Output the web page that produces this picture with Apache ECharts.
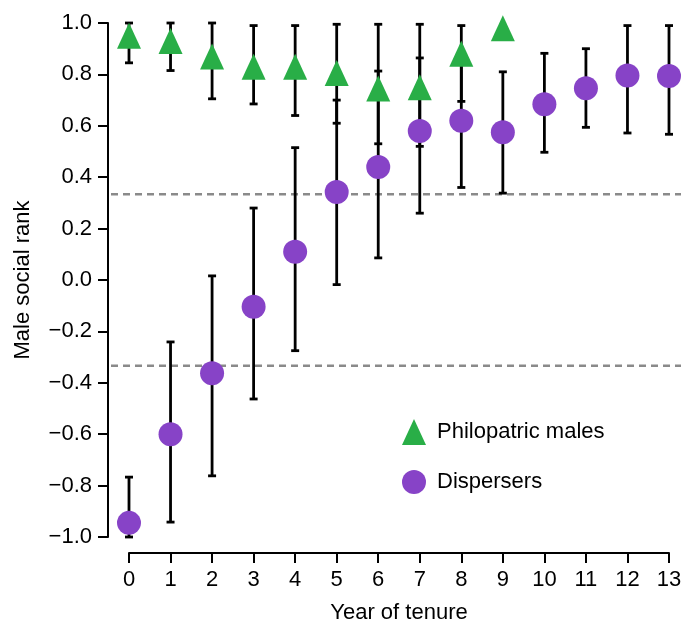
<!DOCTYPE html>
<html>
<head>
<meta charset="utf-8">
<script src="https://cdn.jsdelivr.net/npm/echarts@6/dist/echarts.min.js"></script>
<style>
  html, body { margin: 0; padding: 0; background: #fff; }
  #main { width: 681px; height: 621px; }
</style>
</head>
<body>
<div id="main"></div>
<script>
const years = [0, 1, 2, 3, 4, 5, 6, 7, 8, 9, 10, 11, 12, 13];

// philopatric males (only years 0-9)
const philoMean = [0.95, 0.93, 0.87, 0.83, 0.83, 0.805, 0.745, 0.75, 0.88, 0.98];
const philoLow = [0.845, 0.815, 0.705, 0.685, 0.64, 0.61, 0.53, 0.52, 0.695, null];
const philoHigh = [1.0, 1.0, 1.0, 0.99, 0.99, 0.995, 0.995, 0.995, 0.99, null];

// dispersers
const dispMean = [-0.945, -0.6, -0.363, -0.104, 0.11, 0.342, 0.44, 0.58, 0.62, 0.575, 0.684, 0.746, 0.796, 0.794];
const dispLow = [-1.0, -0.942, -0.762, -0.463, -0.275, -0.018, 0.086, 0.26, 0.36, 0.338, 0.497, 0.594, 0.572, 0.567];
const dispHigh = [-0.767, -0.241, 0.016, 0.28, 0.515, 0.70, 0.813, 0.864, 0.88, 0.81, 0.882, 0.90, 0.99, 0.99];

// rank thresholds (dashed lines)
const thresholds = [1 / 3, -1 / 3];

const green = '#29ae47';
const purple = '#8743c7';
const font = 'Liberation Sans, Arial, sans-serif';
const fs = 22;

const myChart = echarts.init(document.getElementById('main'));

function errData(mean, low, high) {
	const out = [];
	mean.forEach(function (m, i) {
		if (low[i] != null && high[i] != null) out.push([years[i], low[i], high[i]]);
	});
	return out;
}

function renderErr(params, api) {
	const x = api.value(0);
	const top = api.coord([x, api.value(2)]);
	const bot = api.coord([x, api.value(1)]);
	const half = 4;
	const style = { stroke: '#000', lineWidth: 2.8 };
	return {
		type: 'group',
		children: [
			{ type: 'line', shape: { x1: top[0], y1: top[1], x2: bot[0], y2: bot[1] }, style: style },
			{ type: 'line', shape: { x1: top[0] - half, y1: top[1], x2: top[0] + half, y2: top[1] }, style: style },
			{ type: 'line', shape: { x1: bot[0] - half, y1: bot[1], x2: bot[0] + half, y2: bot[1] }, style: style }
		]
	};
}

const thresholdSeries = thresholds.map(function (t) {
	return {
		type: 'line',
		xAxisIndex: 1,
		yAxisIndex: 1,
		silent: true,
		symbol: 'none',
		lineStyle: { color: '#8a8a8a', width: 2.5, type: [7, 5] },
		data: [[0, t], [1, t]],
		z: 1
	};
});

const option = {
	animation: false,
	textStyle: { fontFamily: font },
	grid: [
		{ left: 129, right: 12, top: 23, bottom: 84, outerBoundsMode: 'none' },
		{ left: 111, right: 0, top: 23, bottom: 84, outerBoundsMode: 'none' }
	],
	legend: {
		orient: 'vertical',
		left: 397,
		top: 414,
		itemWidth: 24,
		itemHeight: 26,
		itemGap: 25,
		textStyle: { fontSize: fs, color: '#000', fontFamily: font, padding: [0, 0, 0, 6] },
		data: [
			{ name: 'Philopatric males', icon: 'triangle' },
			{ name: 'Dispersers', icon: 'circle' }
		]
	},
	xAxis: [
		{
			type: 'value',
			min: 0,
			max: 13,
			interval: 1,
			offset: 16,
			name: 'Year of tenure',
			nameLocation: 'middle',
			nameGap: 49,
			nameTextStyle: { fontSize: fs, color: '#000' },
			axisLine: { onZero: false, lineStyle: { color: '#000', width: 2 } },
			axisTick: { length: 10, lineStyle: { color: '#000', width: 2 } },
			axisLabel: { fontSize: fs, color: '#000', margin: 16 },
			splitLine: { show: false }
		},
		{ type: 'value', gridIndex: 1, min: 0, max: 1, show: false }
	],
	yAxis: [
		{
			type: 'value',
			min: -1,
			max: 1,
			interval: 0.2,
			offset: 21,
			name: 'Male social rank',
			nameLocation: 'middle',
			nameGap: 74,
			nameTextStyle: { fontSize: fs, color: '#000' },
			axisLine: { onZero: false, lineStyle: { color: '#000', width: 2 } },
			axisTick: { length: 10, lineStyle: { color: '#000', width: 2 } },
			axisLabel: {
				fontSize: fs,
				color: '#000',
				margin: 16,
				formatter: function (v) {
					return v.toFixed(1).replace('-', '\u2212');
				}
			},
			splitLine: { show: false }
		},
		{ type: 'value', gridIndex: 1, min: -1, max: 1, show: false }
	],
	series: thresholdSeries.concat([
		{
			name: 'philoErr',
			type: 'custom',
			renderItem: renderErr,
			data: errData(philoMean, philoLow, philoHigh),
			z: 2
		},
		{
			name: 'dispErr',
			type: 'custom',
			renderItem: renderErr,
			data: errData(dispMean, dispLow, dispHigh),
			z: 2
		},
		{
			name: 'Philopatric males',
			type: 'scatter',
			symbol: 'triangle',
			symbolSize: [24, 26],
			clip: false,
			itemStyle: { color: green, opacity: 1 },
			data: philoMean.map(function (m, i) { return [years[i], m]; }),
			z: 3
		},
		{
			name: 'Dispersers',
			type: 'scatter',
			symbol: 'circle',
			symbolSize: 24,
			clip: false,
			itemStyle: { color: purple, opacity: 1 },
			data: dispMean.map(function (m, i) { return [years[i], m]; }),
			z: 4
		}
	])
};

myChart.setOption(option);
</script>
</body>
</html>
